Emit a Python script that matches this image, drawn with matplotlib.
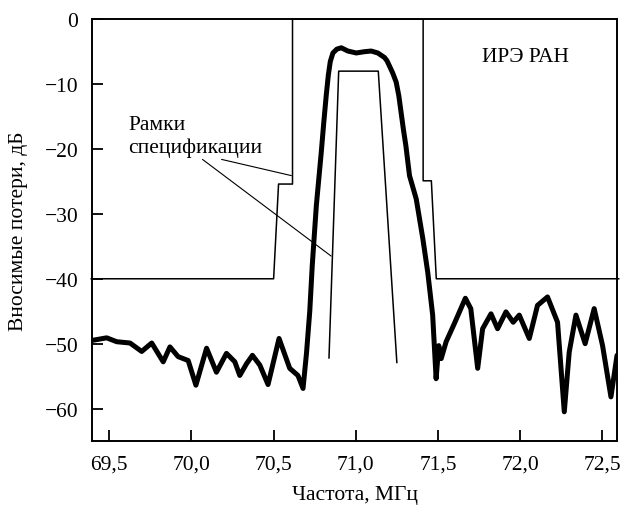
import matplotlib.pyplot as plt

# измеренная АЧХ фильтра
freq = [69.395, 69.484, 69.545, 69.626, 69.697, 69.758, 69.828, 69.869, 69.919, 69.98,
        70.027, 70.092, 70.152, 70.213, 70.264, 70.294, 70.335, 70.371, 70.416, 70.466,
        70.533, 70.598, 70.648, 70.679, 70.70, 70.72, 70.735, 70.76, 70.79, 70.805,
        70.82, 70.833, 70.845, 70.861, 70.885, 70.912, 70.952, 71.003, 71.053, 71.094,
        71.134, 71.175, 71.19, 71.205, 71.225, 71.246, 71.262, 71.276, 71.29, 71.305,
        71.327, 71.368, 71.408, 71.438, 71.468, 71.489, 71.505, 71.52, 71.55, 71.60,
        71.667, 71.70, 71.742, 71.772, 71.823, 71.863, 71.914, 71.958, 71.995, 72.056,
        72.106, 72.167, 72.228, 72.269, 72.299, 72.34, 72.396, 72.451, 72.502, 72.553,
        72.59]
loss = [-49.5, -49.1, -49.7, -49.9, -51.2, -49.9, -52.8, -50.5, -52.0, -52.6,
        -56.4, -50.7, -54.4, -51.5, -52.8, -54.9, -53.1, -51.8, -53.3, -56.3,
        -49.2, -53.8, -54.9, -56.9, -51.5, -45.0, -38.0, -28.7, -20.5, -16.0,
        -11.8, -8.6, -6.5, -5.2, -4.6, -4.4, -4.9, -5.2, -5.0, -4.9,
        -5.2, -5.9, -6.4, -7.2, -8.3, -9.7, -11.8, -14.4, -17.0, -19.5,
        -24.1, -27.7, -33.8, -39.0, -45.6, -55.4, -50.3, -52.3, -49.7, -46.9,
        -43.0, -44.6, -53.8, -47.7, -45.4, -47.7, -45.1, -46.7, -45.6, -49.2,
        -44.1, -42.8, -46.7, -60.5, -51.3, -45.6, -50.0, -44.6, -50.3, -58.2,
        -51.8]

# рамки спецификации
outer_x = [69.39, 70.50, 70.53, 70.615, 70.615, 71.41, 71.41, 71.46, 71.49, 72.6]
outer_y = [-40, -40, -25.4, -25.4, 0, 0, -24.9, -24.9, -40, -40]
inner_x = [70.837, 70.896, 71.137, 71.25]
inner_y = [-52.2, -8.0, -8.0, -52.9]

xticks = [69.5, 70.0, 70.5, 71.0, 71.5, 72.0, 72.5]
xtick_labels = ['69,5', '70,0', '70,5', '71,0', '71,5', '72,0', '72,5']
yticks = [0, -10, -20, -30, -40, -50, -60]

plt.rcParams['font.family'] = ['Liberation Serif', 'DejaVu Serif']
plt.rcParams['font.size'] = 15.5

fig = plt.figure(figsize=(6.22, 5.06), dpi=100)
ax = fig.add_axes([0.148, 0.1265, 0.844, 0.8335])

ax.plot(outer_x, outer_y, color='black', lw=1.1, clip_on=False)
ax.plot(inner_x, inner_y, color='black', lw=1.1)
ax.plot(freq, loss, color='black', lw=3.6, solid_joinstyle='round', solid_capstyle='round')

ax.text(69.614, -16.9, 'Рамки', va='baseline', ha='left')
ax.text(69.614, -20.5, 'спецификации', va='baseline', ha='left')
ax.annotate('', xy=(70.608, -24.1), xytext=(70.183, -21.6),
            arrowprops=dict(arrowstyle='-', lw=0.8, color='black', shrinkA=0, shrinkB=0))
ax.annotate('', xy=(70.85, -36.5), xytext=(70.067, -21.6),
            arrowprops=dict(arrowstyle='-', lw=0.8, color='black', shrinkA=0, shrinkB=0))
ax.text(72.035, -5.7, 'ИРЭ РАН', ha='center', va='center')

ax.set_xlim(69.395, 72.59)
ax.set_ylim(-65, 0)
ax.set_xticks(xticks)
ax.set_xticklabels(xtick_labels)
ax.set_yticks(yticks)
ax.tick_params(direction='in', length=8, width=1.3, pad=10)
for s in ax.spines.values():
    s.set_linewidth(1.4)

ax.set_xlabel('Частота, МГц', labelpad=8)
ax.set_ylabel('Вносимые потери, дБ', labelpad=12)

fig.savefig('out.png', dpi=100)
